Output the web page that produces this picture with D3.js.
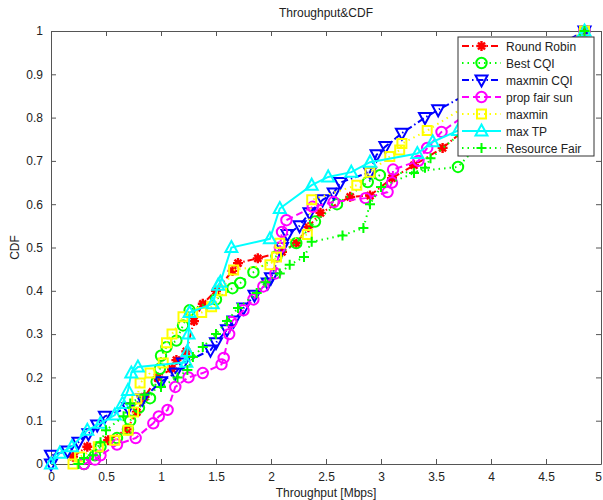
<!DOCTYPE html>
<html>
<head>
<meta charset="utf-8">
<script src="https://cdn.jsdelivr.net/npm/d3@7"></script>
<style>
  body { margin: 0; background: #fff; }
  svg text { font-family: "Liberation Sans", Arial, sans-serif; fill: #222; }
</style>
</head>
<body>
<div id="chart"></div>
<script>
// CDF points per scheme: [throughput Mbps, cdf]
const roundRobin = [[0.2,0.017],[0.33,0.04],[0.52,0.055],[0.69,0.08],[0.78,0.12],[0.85,0.155],[0.97,0.2],[1.1,0.22],[1.14,0.24],[1.23,0.26],[1.3,0.33],[1.38,0.37],[1.5,0.4],[1.65,0.446],[1.7,0.464],[1.88,0.475],[2.1,0.49],[2.23,0.51],[2.34,0.547],[2.45,0.58],[2.72,0.617],[2.9,0.62],[3.1,0.66],[3.3,0.69],[3.56,0.73],[4.85,1]];
const bestCQI = [[0.3,0.0],[0.4,0.02],[0.45,0.04],[0.6,0.06],[0.7,0.08],[0.72,0.1],[0.8,0.13],[0.9,0.152],[0.96,0.19],[0.99,0.22],[1.0,0.25],[1.05,0.27],[1.14,0.285],[1.2,0.32],[1.26,0.355],[1.5,0.38],[1.65,0.406],[1.72,0.418],[1.84,0.443],[2.05,0.48],[2.23,0.51],[2.4,0.56],[2.6,0.6],[2.88,0.651],[2.99,0.667],[3.7,0.686],[4.85,1]];
const maxminCQI = [[0,0],[0,0.02],[0.15,0.03],[0.25,0.05],[0.34,0.07],[0.42,0.09],[0.49,0.11],[0.7,0.13],[0.83,0.15],[1.0,0.19],[1.13,0.21],[1.2,0.233],[1.45,0.263],[1.5,0.28],[1.6,0.31],[1.66,0.33],[1.75,0.36],[1.85,0.39],[1.97,0.418],[2.0,0.43],[2.1,0.5],[2.15,0.53],[2.26,0.55],[2.35,0.58],[2.47,0.61],[2.57,0.626],[2.63,0.65],[2.9,0.674],[2.96,0.714],[3.04,0.733],[3.19,0.764],[3.4,0.8],[3.52,0.818],[4.85,1]];
const propFair = [[0.3,0.0],[0.4,0.01],[0.45,0.02],[0.6,0.045],[0.77,0.06],[0.93,0.094],[0.98,0.11],[1.06,0.125],[1.13,0.178],[1.25,0.2],[1.38,0.21],[1.55,0.23],[1.57,0.245],[1.62,0.3],[1.64,0.328],[1.75,0.355],[1.84,0.38],[1.93,0.41],[2.04,0.44],[2.08,0.5],[2.1,0.536],[2.14,0.563],[2.38,0.594],[2.57,0.605],[2.86,0.614],[3.06,0.628],[3.1,0.65],[3.11,0.68],[3.34,0.7],[3.42,0.73],[3.55,0.767],[4.85,1]];
const maxmin = [[0.2,0.0],[0.26,0.016],[0.43,0.04],[0.58,0.055],[0.7,0.078],[0.75,0.12],[0.78,0.15],[0.81,0.187],[0.9,0.21],[1.02,0.233],[1.05,0.28],[1.1,0.3],[1.2,0.34],[1.37,0.35],[1.46,0.363],[1.55,0.4],[1.66,0.448],[1.99,0.46],[2.05,0.478],[2.08,0.51],[2.33,0.53],[2.37,0.61],[2.78,0.644],[2.9,0.674],[3.08,0.71],[3.17,0.725],[3.19,0.74],[3.42,0.77],[4.85,1]];
const maxTP = [[0,0],[0.08,0.025],[0.19,0.04],[0.33,0.078],[0.45,0.094],[0.58,0.113],[0.65,0.14],[0.7,0.17],[0.73,0.21],[0.79,0.224],[1.23,0.235],[1.24,0.26],[1.25,0.3],[1.26,0.35],[1.47,0.37],[1.52,0.413],[1.54,0.42],[1.64,0.5],[1.99,0.52],[2.08,0.59],[2.37,0.644],[2.52,0.663],[2.73,0.674],[2.9,0.697],[3.33,0.717],[3.47,0.744],[3.7,0.77],[4.85,1]];
const resourceFair = [[0.25,0.0],[0.3,0.014],[0.38,0.02],[0.45,0.05],[0.5,0.078],[0.66,0.11],[0.72,0.14],[0.85,0.16],[1.0,0.178],[1.15,0.2],[1.24,0.217],[1.29,0.247],[1.38,0.27],[1.5,0.3],[1.6,0.33],[1.7,0.36],[1.87,0.395],[1.95,0.42],[2.08,0.44],[2.17,0.46],[2.3,0.478],[2.37,0.513],[2.65,0.528],[2.84,0.545],[2.9,0.6],[3.0,0.64],[3.3,0.672],[3.4,0.684],[3.45,0.706],[4.85,1]];

const seriesNames = ["Round Robin", "Best CQI", "maxmin CQI", "prop fair sun", "maxmin", "max TP", "Resource Fair"];
const seriesData = [roundRobin, bestCQI, maxminCQI, propFair, maxmin, maxTP, resourceFair];
const seriesColors = ["#ff0000", "#00ff00", "#0000ff", "#ff00ff", "#ffff00", "#00ffff", "#00ff00"];
const seriesDash = ["7,3,1.5,3", "1.5,4", "7,3,1.5,3", "7,4", "1.5,4", null, "1.5,4"];
const seriesMarker = ["star", "circle", "tridown", "circle", "square", "triup", "plus"];
const xTicks = [0, 0.5, 1, 1.5, 2, 2.5, 3, 3.5, 4, 4.5, 5];
const yTicks = [0, 0.1, 0.2, 0.3, 0.4, 0.5, 0.6, 0.7, 0.8, 0.9, 1];

const width = 603, height = 500;
const plotL = 51, plotT = 31, plotR = 601, plotB = 464;

const svg = d3.select("#chart").append("svg")
  .attr("width", width).attr("height", height);

const x = d3.scaleLinear().domain([0, 5]).range([plotL, plotR]);
const y = d3.scaleLinear().domain([0, 1]).range([plotB, plotT]);

// axes with inward ticks on all four sides
const fmt = d => String(d);
svg.append("g").attr("class", "xaxis").attr("transform", "translate(0," + plotB + ")")
  .call(d3.axisBottom(x).tickValues(xTicks).tickFormat(fmt).tickSizeInner(-5).tickSizeOuter(0).tickPadding(8));
svg.append("g").attr("transform", "translate(0," + plotT + ")")
  .call(d3.axisTop(x).tickValues(xTicks).tickFormat("").tickSizeInner(-5).tickSizeOuter(0));
svg.append("g").attr("transform", "translate(" + plotL + ",0)")
  .call(d3.axisLeft(y).tickValues(yTicks).tickFormat(fmt).tickSizeInner(-5).tickSizeOuter(0).tickPadding(8));
svg.append("g").attr("transform", "translate(" + plotR + ",0)")
  .call(d3.axisRight(y).tickValues(yTicks).tickFormat("").tickSizeInner(-5).tickSizeOuter(0));
svg.selectAll(".domain").attr("stroke", "#555");
svg.selectAll(".tick line").attr("stroke", "#555");
svg.selectAll(".tick text").style("font-size", "12px").attr("fill", "#222");
// keep the last x label inside the window
svg.selectAll(".xaxis .tick text").filter(d => d === 5).attr("dx", "-3");

svg.append("text").attr("x", (plotL + plotR) / 2).attr("y", 17)
  .attr("text-anchor", "middle").style("font-size", "12px").text("Throughput&CDF");
svg.append("text").attr("x", (plotL + plotR) / 2).attr("y", 497)
  .attr("text-anchor", "middle").style("font-size", "12px").text("Throughput [Mbps]");
svg.append("text").attr("transform", "translate(19," + ((plotT + plotB) / 2) + ") rotate(-90)")
  .attr("text-anchor", "middle").style("font-size", "12px").text("CDF");

function markerPath(kind) {
  const s = 5;
  if (kind === "circle") return d3.symbol(d3.symbolCircle, 85)();
  if (kind === "square") return "M-4.5,-4.5H4.5V4.5H-4.5Z";
  if (kind === "triup") return "M0,-6.5L6,4.5H-6Z";
  if (kind === "tridown") return "M0,6.5L6,-4.5H-6Z";
  if (kind === "plus") return "M-" + s + ",0H" + s + "M0,-" + s + "V" + s;
  // star: plus + cross
  const d = 3.5;
  return "M-" + s + ",0H" + s + "M0,-" + s + "V" + s +
    "M-" + d + ",-" + d + "L" + d + "," + d + "M-" + d + "," + d + "L" + d + ",-" + d;
}

const line = d3.line().x(d => x(d[0])).y(d => y(d[1]));

seriesData.forEach(function (data, i) {
  const g = svg.append("g");
  g.append("path").datum(data)
    .attr("fill", "none")
    .attr("stroke", seriesColors[i])
    .attr("stroke-width", 2)
    .attr("stroke-dasharray", seriesDash[i])
    .attr("d", line);
  g.selectAll("path.m").data(data).enter().append("path")
    .attr("class", "m")
    .attr("transform", d => "translate(" + x(d[0]) + "," + y(d[1]) + ")")
    .attr("d", markerPath(seriesMarker[i]))
    .attr("fill", "none")
    .attr("stroke", seriesColors[i])
    .attr("stroke-width", seriesMarker[i] === "star" ? 2.4 : 2);
});

// legend
const lg = svg.append("g");
lg.append("rect").attr("x", 458).attr("y", 37).attr("width", 136).attr("height", 119)
  .attr("fill", "#fff").attr("stroke", "#333").attr("stroke-width", 1);
seriesNames.forEach(function (name, i) {
  const ly = 46 + i * 17;
  lg.append("line").attr("x1", 462).attr("x2", 501).attr("y1", ly).attr("y2", ly)
    .attr("stroke", seriesColors[i]).attr("stroke-width", 2)
    .attr("stroke-dasharray", seriesDash[i]);
  lg.append("path").attr("transform", "translate(481.5," + ly + ")")
    .attr("d", markerPath(seriesMarker[i]))
    .attr("fill", "none").attr("stroke", seriesColors[i])
    .attr("stroke-width", seriesMarker[i] === "star" ? 2.4 : 2);
  lg.append("text").attr("x", 506).attr("y", ly + 4.5)
    .style("font-size", "12px").text(name);
});
</script>
</body>
</html>
